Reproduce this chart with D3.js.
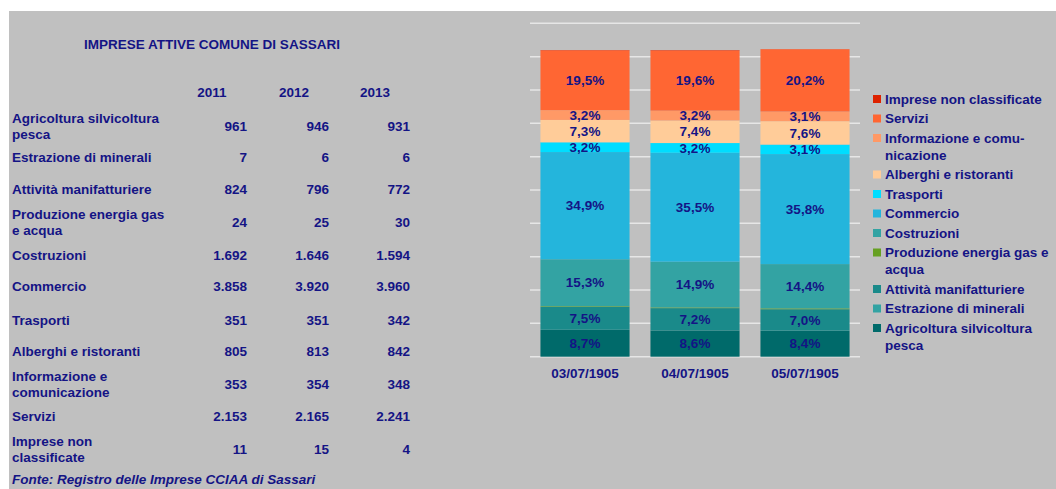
<!DOCTYPE html>
<html><head><meta charset="utf-8">
<script src="https://cdn.jsdelivr.net/npm/d3@7"></script>
<style>html,body{margin:0;padding:0;background:#fff;}svg{display:block;}</style>
</head><body>
<svg id="c" width="1056" height="489"></svg>
<script>
// ---------- DATA ----------
const title = "IMPRESE ATTIVE COMUNE DI SASSARI";
const years = ["2011", "2012", "2013"];
const xTickLabels = ["03/07/1905", "04/07/1905", "05/07/1905"];
const sectors = [
  "Agricoltura silvicoltura\npesca",
  "Estrazione di minerali",
  "Attività manifatturiere",
  "Produzione energia gas\ne acqua",
  "Costruzioni",
  "Commercio",
  "Trasporti",
  "Alberghi e ristoranti",
  "Informazione e\ncomunicazione",
  "Servizi",
  "Imprese non\nclassificate"
];
const legendLabels = [
  "Agricoltura silvicoltura\npesca",
  "Estrazione di minerali",
  "Attività manifatturiere",
  "Produzione energia gas e\nacqua",
  "Costruzioni",
  "Commercio",
  "Trasporti",
  "Alberghi e ristoranti",
  "Informazione e comu-\nnicazione",
  "Servizi",
  "Imprese non classificate"
];
const values2011 = [961, 7, 824, 24, 1692, 3858, 351, 805, 353, 2153, 11];
const values2012 = [946, 6, 796, 25, 1646, 3920, 351, 813, 354, 2165, 15];
const values2013 = [931, 6, 772, 30, 1594, 3960, 342, 842, 348, 2241, 4];
const yTicks = [0, 1200, 2400, 3600, 4800, 6000, 7200, 8400, 9600, 10800, 12000];
const source = "Fonte: Registro delle Imprese CCIAA di Sassari";

// ---------- STYLE / LAYOUT ----------
const colors = ["#006a6a", "#33a3a3", "#1a8a8a", "#66a022", "#33a3a3", "#24b5dc",
                "#00ddff", "#ffcc99", "#ff9966", "#ff6633", "#dd2200"];
const ink = "#141485";
const font = "'Liberation Sans', Arial, sans-serif";
const fs = 13.5;
const rowY = [126, 157, 189, 222, 255, 286, 320, 351, 384, 416, 449];
const colX = [247, 329, 410];

const svg = d3.select("#c");
svg.append("rect").attr("x", 9).attr("y", 11).attr("width", 1047).attr("height", 478).attr("fill", "#c0c0c0");

const g = svg.append("g").attr("font-family", font).attr("font-weight", "bold")
  .attr("font-size", fs).attr("fill", ink);

// ---------- TABLE ----------
g.append("text").attr("x", 212).attr("y", 44).attr("dy", "0.35em")
  .attr("text-anchor", "middle").text(title);
g.selectAll(".yr").data(years).join("text").attr("class", "yr")
  .attr("x", (d, i) => colX[i] - 35).attr("y", 92).attr("dy", "0.35em")
  .attr("text-anchor", "middle").text(d => d);

const fmtInt = v => d3.format(",")(v).replace(/,/g, ".");
sectors.forEach((lab, r) => {
  const lines = lab.split("\n");
  const t = g.append("text").attr("x", 12);
  lines.forEach((ln, k) => {
    t.append("tspan").attr("x", 12)
      .attr("y", rowY[r] + (k - (lines.length - 1) / 2) * 16)
      .attr("dy", "0.35em").text(ln);
  });
  [values2011, values2012, values2013].forEach((arr, c) => {
    g.append("text").attr("x", colX[c]).attr("y", rowY[r]).attr("dy", "0.35em")
      .attr("text-anchor", "end").text(fmtInt(arr[r]));
  });
});
g.append("text").attr("x", 12).attr("y", 479).attr("dy", "0.35em")
  .attr("font-style", "italic").text(source);

// ---------- CHART ----------
const x = d3.scaleBand().domain(xTickLabels).range([530, 860])
  .paddingInner(0.19).paddingOuter(0.095);
const y = d3.scaleLinear().domain([0, 12000]).range([356.7, 23.3]);

svg.append("g").selectAll("line").data(yTicks).join("line")
  .attr("x1", 530).attr("x2", 860)
  .attr("y1", d => y(d)).attr("y2", d => y(d))
  .attr("stroke", "#e6e6e6").attr("stroke-width", 1.5);

const series = [values2011, values2012, values2013];
const rows = xTickLabels.map((lab, i) => {
  const o = { label: lab };
  sectors.forEach((s, k) => o[k] = series[i][k]);
  return o;
});
const keys = sectors.map((s, k) => k);
const stacked = d3.stack().keys(keys)(rows);
const totals = series.map(a => d3.sum(a));

const layers = svg.append("g").selectAll("g").data(stacked).join("g")
  .attr("fill", d => colors[d.key]);
layers.selectAll("rect").data(d => d).join("rect")
  .attr("x", d => x(d.data.label)).attr("width", x.bandwidth())
  .attr("y", d => y(d[1])).attr("height", d => y(d[0]) - y(d[1]));

const fmtPct = v => d3.format(".1%")(v).replace(".", ",");
const lbl = svg.append("g").attr("font-family", font).attr("font-weight", "bold")
  .attr("font-size", fs).attr("fill", ink).attr("text-anchor", "middle");
stacked.forEach(layer => {
  layer.forEach((d, i) => {
    const share = (d[1] - d[0]) / totals[i];
    if (share < 0.02) return;
    lbl.append("text").attr("x", x(d.data.label) + x.bandwidth() / 2)
      .attr("y", (y(d[0]) + y(d[1])) / 2).attr("dy", "0.35em").text(fmtPct(share));
  });
});

const xAxis = svg.append("g").attr("transform", "translate(0,366)")
  .call(d3.axisBottom(x).tickSize(0).tickPadding(0));
xAxis.select(".domain").remove();
xAxis.selectAll("text").attr("font-family", font).attr("font-weight", "bold")
  .attr("font-size", fs).attr("fill", ink).attr("dy", "0.35em").attr("y", 7);

// ---------- LEGEND ----------
const leg = svg.append("g").attr("font-family", font).attr("font-weight", "bold")
  .attr("font-size", fs).attr("fill", ink);
let ly = 99;
for (let k = sectors.length - 1; k >= 0; k--) {
  const lines = legendLabels[k].split("\n");
  leg.append("rect").attr("x", 873).attr("y", ly - 4).attr("width", 8).attr("height", 8)
    .attr("fill", colors[k]);
  const t = leg.append("text");
  lines.forEach((ln, j) => t.append("tspan").attr("x", 885).attr("y", ly + j * 17)
    .attr("dy", "0.35em").text(ln));
  ly += 19.5 + 17 * (lines.length - 1);
}
</script>
</body></html>
